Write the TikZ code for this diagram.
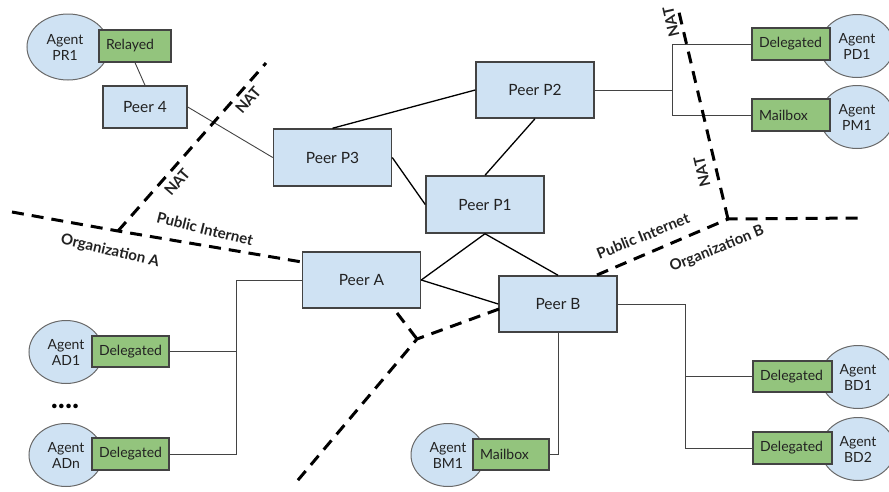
\documentclass[tikz,border=0pt]{standalone}
\usepackage{fontspec}
\setmainfont{Lato}
\usetikzlibrary{calc,shapes.geometric}
\definecolor{peerfill}{HTML}{CFE2F3}
\definecolor{greenfill}{HTML}{93C47D}
\definecolor{edgegray}{HTML}{434343}
\definecolor{txt}{HTML}{222222}
\tikzset{
  peer/.style={draw=edgegray, line width=1.5pt, fill=peerfill, minimum width=118pt, minimum height=56pt, inner sep=0pt, font=\fontsize{15.5}{17}\selectfont, text=txt},
  greenbox/.style={draw=edgegray, line width=1.2pt, fill=greenfill, minimum height=31pt, inner xsep=7pt, inner ysep=0pt, align=left, font=\fontsize{14}{16}\selectfont, text=txt},
  agent/.style={ellipse, draw=edgegray!80, line width=1pt, fill=peerfill, minimum width=74pt, minimum height=63pt, inner sep=0pt},
  agenttext/.style={font=\fontsize{14}{16}\selectfont, text=txt, align=center, inner sep=0pt},
  bold line/.style={line width=1.3pt, black},
  thin line/.style={line width=0.9pt, edgegray},
  boundary/.style={line width=3pt, black, dash pattern=on 12pt off 8pt},
  lbl/.style={font=\bfseries\fontsize{15}{16}\selectfont, text=txt, inner sep=0pt}
}
\begin{document}
\begin{tikzpicture}[x=1pt,y=-1pt]
\useasboundingbox (0,0) rectangle (889,491);
\clip (0,0) rectangle (889,491);

% agents (ellipses)
\node[agent, minimum width=82pt, minimum height=66pt] (aPR1) at (68,47) {};
\node[agenttext] (tPR1) at (65,47) {Agent\\PR1};
\node[agent] (aAD1) at (66,352) {};
\node[agenttext] (tAD1) at (66,352) {Agent\\AD1};
\node[agent] (aADn) at (66,455) {};
\node[agenttext] (tADn) at (66,455) {Agent\\ADn};
\node[agent] (aBM1) at (448,455) {};
\node[agenttext] (tBM1) at (448,455) {Agent\\BM1};
\node[agent] (aBD1) at (858,377) {};
\node[agenttext] (tBD1) at (858,377) {Agent\\BD1};
\node[agent] (aBD2) at (858,449) {};
\node[agenttext] (tBD2) at (858,449) {Agent\\BD2};
\node[agent] (aPD1) at (857,46) {};
\node[agenttext] (tPD1) at (857,46) {Agent\\PD1};
\node[agent] (aPM1) at (857,117) {};
\node[agenttext] (tPM1) at (857,117) {Agent\\PM1};

% green boxes
\node[greenbox, text width=58pt, minimum height=32pt] (rPR1) at (135,46) {Relayed};
\node[greenbox, text width=63pt] (dAD1) at (130.5,351.5) {Delegated};
\node[greenbox, text width=63pt, minimum height=32pt] (dADn) at (130.5,454) {Delegated};
\node[greenbox, text width=62pt] (mBM1) at (511,454.5) {Mailbox};
\node[greenbox, text width=65pt] (dBD1) at (792.5,376.5) {Delegated};
\node[greenbox, text width=65pt, minimum height=32pt] (dBD2) at (792.5,448) {Delegated};
\node[greenbox, text width=64pt, minimum height=32pt] (dPD1) at (791,44) {Delegated};
\node[greenbox, text width=64pt, minimum height=32pt] (mPM1) at (791,115) {Mailbox};

% peers
\node[peer, minimum width=84pt, minimum height=42pt] (p4) at (145,107) {Peer 4};
\node[peer, minimum height=57pt] (p3) at (332.5,157.5) {Peer P3};
\node[peer] (p2) at (535,90) {Peer P2};
\node[peer, minimum height=57pt] (p1) at (485,204.5) {Peer P1};
\node[peer] (pA) at (361.5,280) {Peer A};
\node[peer] (pB) at (558,304) {Peer B};

% peer connectors
\draw[bold line] (p3.north) -- (p2.west);
\draw[bold line] (p3.east) -- (p1.west);
\draw[bold line] (p2.south) -- (p1.north);
\draw[bold line] (p1.south) -- (pA.east);
\draw[bold line] (p1.south) -- (pB.north);
\draw[bold line] (pA.east) -- (pB.west);
\draw[thin line] (p4.east) -- (p3.west);
\draw[thin line] (rPR1.south) -- (p4.north);

% agent connectors
\coordinate (busA) at (236,280);
\draw[thin line] (pA.west) -- (busA) |- (dADn.east);
\draw[thin line] (busA |- dAD1.east) -- (dAD1.east);
\coordinate (busB) at (685,304);
\draw[thin line] (pB.east) -- (busB) |- (dBD2.west);
\draw[thin line] (busB |- dBD1.west) -- (dBD1.west);
\draw[thin line] (pB.south) |- (mBM1.east);
\coordinate (busP) at (672,90);
\draw[thin line] (p2.east) -- (busP) |- (dPD1.west);
\draw[thin line] (busP) |- (mPM1.west);

% boundaries
\coordinate (jA) at (118,231);
\coordinate (jB) at (728,219);
\coordinate (jC) at (417,339);
\draw[boundary] (12,212) -- (jA) -- (302,262);
\draw[boundary] (jA) -- (266,63);
\draw[boundary] (597,275) -- (jB) -- (862,218);
\draw[boundary] (jB) -- (678,8);
\draw[boundary] (499,309) -- (jC) -- (293,486);
\draw[boundary] (397,313) -- (jC);

% labels
\node[lbl, rotate=49] (nat1) at (248,100) {NAT};
\node[lbl, rotate=49] (nat2) at (177,182) {NAT};
\node[lbl, rotate=-14] (piA) at (205,229) {Public Internet};
\node[lbl, rotate=-13] (orgA) at (110,251) {Organization A};
\node[lbl, rotate=22] (piB) at (643,236) {Public Internet};
\node[lbl, rotate=22] (orgB) at (717,249) {Organization B};
\node[lbl, rotate=103] (nat3) at (671,22) {NAT};
\node[lbl, rotate=103] (nat4) at (702,172) {NAT};
\node[font=\bfseries\fontsize{30}{30}\selectfont, text=black, inner sep=0pt] (dots) at (65,406) {....};
\end{tikzpicture}
\end{document}
